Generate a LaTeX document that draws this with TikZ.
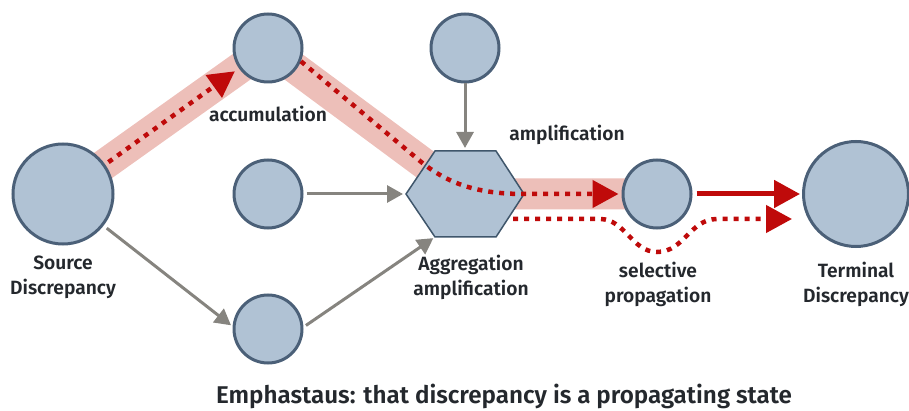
\documentclass[tikz,border=0pt]{standalone}
\usepackage{fontspec}
\setmainfont{Fira Sans}[BoldFont={Fira Sans SemiBold}]
\usetikzlibrary{arrows.meta}
\definecolor{nodefill}{HTML}{B0C2D4}
\definecolor{nodeline}{HTML}{4B6078}
\definecolor{hexline}{HTML}{3F566B}
\definecolor{bandpink}{HTML}{EDBFB9}
\definecolor{flowred}{HTML}{BF0A0A}
\definecolor{feedgray}{HTML}{86847F}
\definecolor{labeltext}{HTML}{24282D}
\begin{document}
\begin{tikzpicture}[x=1pt,y=-1pt,
  disc/.style={circle,draw=nodeline,fill=nodefill,line width=3pt,inner sep=0pt,minimum size=#1},
  band/.style={draw=bandpink,line width=31pt},
  redflow/.style={draw=flowred,line width=4.5pt,dash pattern=on 5pt off 6pt,
    -{Triangle[length=26pt,width=27pt]}},
  redsolid/.style={draw=flowred,line width=5pt,-{Triangle[length=26pt,width=27pt]}},
  feed/.style={draw=feedgray,line width=3pt,-{Triangle[length=16pt,width=17pt]}},
  lbl/.style={font=\bfseries\fontsize{19.2}{25}\selectfont,text=labeltext,align=center},
]
\useasboundingbox (0,0) rectangle (909,411);

% node positions
\coordinate (srcC) at (63,194);
\coordinate (accC) at (268,48);
\coordinate (topC) at (465,48);
\coordinate (midC) at (268,194);
\coordinate (botC) at (268,329);
\coordinate (hex)  at (465,194);
\coordinate (selC) at (657,194);
\coordinate (termC) at (856,194);

% hexagon corners
\coordinate (hexL)  at (406,194);
\coordinate (hexTL) at (435,151);
\coordinate (hexT)  at (465,151);
\coordinate (hexTR) at (496,151);
\coordinate (hexR)  at (524,194);
\coordinate (hexBR) at (496,237);
\coordinate (hexBL) at (435,237);

% highlighted propagation path
\draw[band] (srcC) -- (accC) -- (hex) -- (selC);

% hexagonal aggregation node
\filldraw[fill=nodefill,draw=hexline,line width=1.5pt]
  (hexL) -- (hexTL) -- (hexTR) -- (hexR) -- (hexBR) -- (hexBL) -- cycle;

% circular nodes
\node[disc=100pt] (src)  at (srcC) {};
\node[disc=68pt]  (acc)  at (accC) {};
\node[disc=68pt]  (top)  at (topC) {};
\node[disc=68pt]  (mid)  at (midC) {};
\node[disc=68pt]  (bot)  at (botC) {};
\node[disc=68pt]  (sel)  at (selC) {};
\node[disc=105pt] (term) at (termC) {};

% gray contributing inputs
\draw[feed,shorten >=3pt] (top.south) -- (hexT);
\draw[feed,shorten <=3pt,shorten >=3pt] (mid.east) -- (hexL);
\draw[feed,shorten <=4pt,shorten >=2pt] (src.-38) -- (bot.176);
\draw[feed,shorten <=3pt,shorten >=2pt] (bot.3) -- (hexBL);

% red propagation flows
\draw[redflow,shorten <=4pt,shorten >=5pt] (src.35.5) -- (acc.215.5);
\coordinate (bend) at (420,161);
\draw[redflow,shorten >=3pt] (acc.-22) -- (bend)
  .. controls (448,184) and (478,194) .. (hexR) -- (sel.west);
\draw[redsolid,shorten <=4pt,shorten >=2pt] (sel.east) -- (term.west);
\coordinate (lowS) at (513,219);
\coordinate (lowE) at (792,219);
\draw[redflow] (lowS) -- (600,219)
  .. controls (625,219) and (632,252) .. (657,252)
  .. controls (684,252) and (690,219) .. (717,219) -- (lowE);

% labels
\node[lbl] (lacc) at (268,114) {accumulation};
\node[lbl] (lamp) at (567,135) {amplification};
\node[lbl] (lsrc) at (63,277) {Source\\Discrepancy};
\node[lbl] (lagg) at (471,277) {Aggregation\\amplification};
\node[lbl] (lsel) at (658,284) {selective\\propagation};
\node[lbl] (lterm) at (856,284) {Terminal\\Discrepancy};
\node[lbl,font=\bfseries\fontsize{24.2}{28}\selectfont] (cap) at (504,396)
  {Emphastaus: that discrepancy is a propagating state};
\end{tikzpicture}
\end{document}
